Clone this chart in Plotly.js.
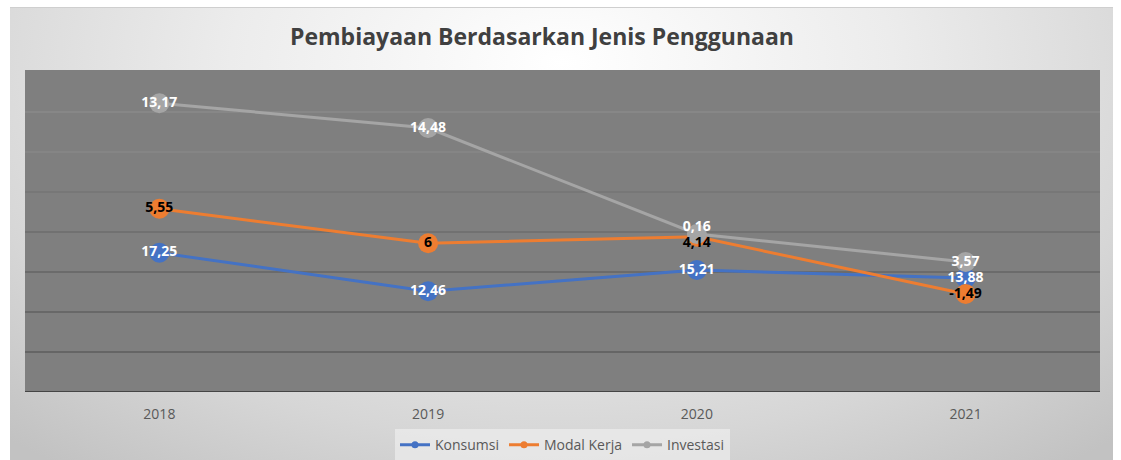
<!DOCTYPE html>
<html>
<head>
<meta charset="utf-8">
<script src="https://cdn.plot.ly/plotly-3.0.1.min.js"></script>
<style>
  html, body { margin: 0; padding: 0; background: #ffffff; }
  #wrap { position: relative; width: 1121px; height: 460px; overflow: hidden; }
  #bg { position: absolute; left: 10px; top: 7px; width: 1103px; height: 460px;
        border-top: 1px solid #cfcfcf;
        background: radial-gradient(ellipse 75% 110% at 50% 12%, #ffffff 0%, #ececec 40%, #d6d6d6 75%, #c2c2c2 100%); }
  #chart { position: absolute; left: 0; top: 0; width: 1121px; height: 460px; }
</style>
</head>
<body>
<div id="wrap">
  <div id="bg"></div>
  <div id="chart"></div>
</div>
<script>
// Categories (years)
var years = ["2018", "2019", "2020", "2021"];
var seriesNames = ["Konsumsi", "Modal Kerja", "Investasi"];

// Plotted positions (arbitrary unscaled axis)
var konsumsiPos   = [3.48, 2.52, 3.05, 2.85];
var modalKerjaPos = [4.58, 3.72, 3.88, 2.45];
var investasiPos  = [7.22, 6.60, 3.95, 3.25];

// Data label texts as shown on the chart
var konsumsiLabels   = ["17,25", "12,46", "15,21", "13,88"];
var modalKerjaLabels = ["5,55", "6", "4,14", "-1,49"];
var investasiLabels  = ["13,17", "14,48", "0,16", "3,57"];

// Gridline levels (bottom to top) and their shades
var gridLevels = [1, 2, 3, 4, 5, 6, 7];
var gridColors = ["#5c5c5c", "#606060", "#656565", "#6c6c6c", "#757575", "#878787", "#8a8a8a"];

var colors = ["#4472c4", "#ed7d31", "#a5a5a5"];
var positions = [konsumsiPos, modalKerjaPos, investasiPos];
var labels = [konsumsiLabels, modalKerjaLabels, investasiLabels];
var labelColors = ["#ffffff", "#000000", "#ffffff"];
var labelPositions = [
  ["middle center", "middle center", "middle center", "middle center"],
  ["middle center", "middle center", "bottom center", "middle center"],
  ["middle center", "middle center", "top center", "middle center"]
];

var font = "Open Sans, Lato, sans-serif";
var traces = [];
// lines + markers
for (var i = 0; i < 3; i++) {
  traces.push({
    type: "scatter", mode: "lines+markers", x: years, y: positions[i],
    name: seriesNames[i], showlegend: false, hoverinfo: "skip",
    line: { color: colors[i], width: 3 },
    marker: { color: colors[i], size: 20 },
    cliponaxis: false
  });
}
// data labels on top
for (var j = 0; j < 3; j++) {
  traces.push({
    type: "scatter", mode: "text", x: years, y: positions[j],
    text: labels[j], textposition: labelPositions[j], showlegend: false, hoverinfo: "skip",
    textfont: { family: font, size: 14, color: labelColors[j], weight: "bold" },
    cliponaxis: false
  });
}
// legend entries
for (var k = 0; k < 3; k++) {
  traces.push({
    type: "scatter", mode: "lines+markers", x: [null], y: [null],
    name: seriesNames[k], showlegend: true,
    line: { color: colors[k], width: 3 },
    marker: { color: colors[k], size: 7 }
  });
}

var shapes = gridLevels.map(function (v, idx) {
  return { type: "line", xref: "paper", x0: 0, x1: 1, yref: "y", y0: v, y1: v,
           line: { color: gridColors[idx], width: 1.3 }, layer: "below" };
});
shapes.push({ type: "line", xref: "paper", x0: 0, x1: 1, yref: "y", y0: 0, y1: 0,
              line: { color: "#454545", width: 2 }, layer: "below" });

var layout = {
  width: 1121, height: 460,
  paper_bgcolor: "rgba(0,0,0,0)",
  plot_bgcolor: "#7f7f7f",
  margin: { l: 25, r: 21, t: 70, b: 68, autoexpand: false },
  title: {
    text: "<b>Pembiayaan Berdasarkan Jenis Penggunaan</b>",
    font: { family: font, size: 23, color: "#404040" },
    x: 0.4835, xanchor: "center", y: 0.92, yanchor: "middle"
  },
  xaxis: {
    type: "category", range: [-0.5, 3.5], showgrid: false, zeroline: false,
    showline: false, ticks: "", ticklabelstandoff: 12, automargin: false,
    tickfont: { family: font, size: 14, color: "#595959" }, fixedrange: true
  },
  yaxis: {
    range: [0, 8.05], showgrid: false, zeroline: false, showticklabels: false,
    ticks: "", fixedrange: true, automargin: false
  },
  shapes: shapes,
  showlegend: true,
  legend: {
    orientation: "h", x: 0.5, xanchor: "center", y: -0.165, yanchor: "middle",
    bgcolor: "rgba(242,242,242,0.6)", font: { family: font, size: 14, color: "#595959" },
    itemclick: false, itemdoubleclick: false
  },
  hovermode: false
};

Plotly.newPlot("chart", traces, layout, { displayModeBar: false, staticPlot: true });
</script>
</body>
</html>
